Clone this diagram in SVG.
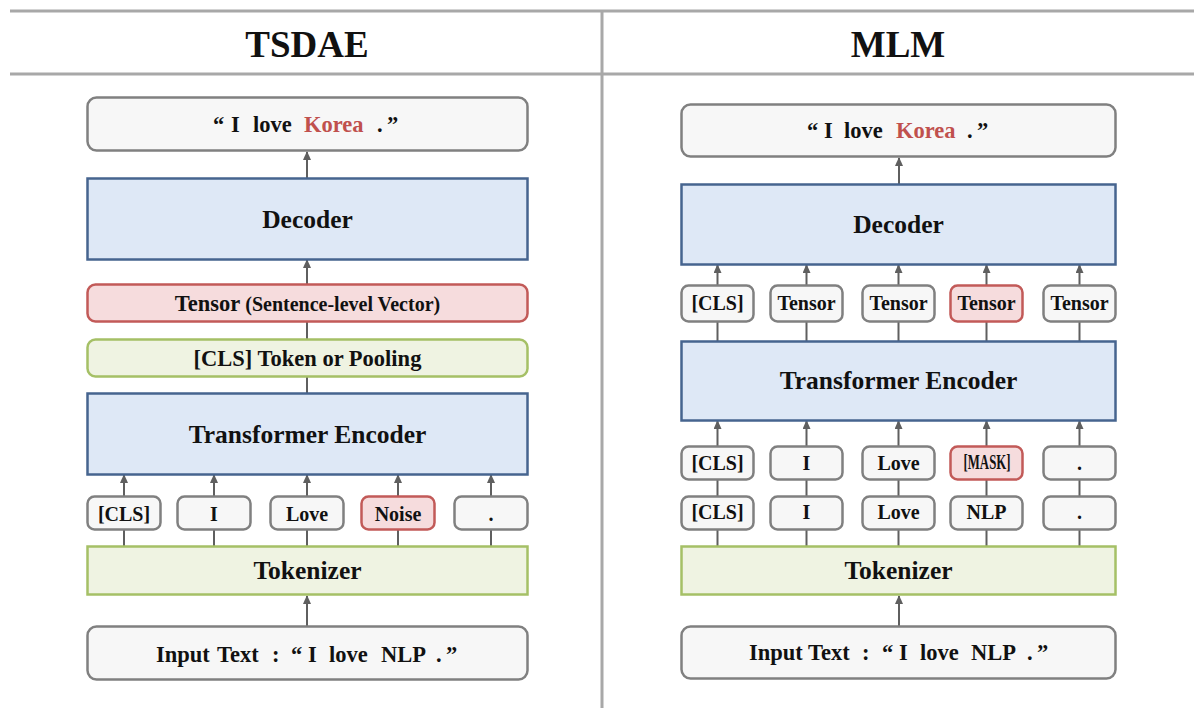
<svg xmlns="http://www.w3.org/2000/svg" width="1194" height="708" viewBox="0 0 1194 708">
  <defs>
    <marker id="arrow" viewBox="0 0 8 10" refX="4" refY="1" markerWidth="8" markerHeight="10" markerUnits="userSpaceOnUse" orient="0">
      <path d="M0,9 L4,0 L8,9 Z" fill="#5f5f5f"/>
    </marker>
    <style>
      text { font-family: "Times New Roman", Times, "Liberation Serif", Tinos, "Noto Serif", FreeSerif, "Nimbus Roman", "DejaVu Serif", serif; font-weight: 700; fill: #111; }
      .title { font-size: 37px; text-anchor: middle; }
      .big { font-size: 25.5px; text-anchor: middle; }
      .mid { font-size: 22.5px; }
      .tok { font-size: 20px; text-anchor: middle; }
      .red { fill: #c0504d; }
      .plain { fill: #f7f7f7; stroke: #808080; stroke-width: 2.5; }
      .blue { fill: #dee8f6; stroke: #46648f; stroke-width: 2.5; }
      .pink { fill: #f6dcdd; stroke: #c25a58; stroke-width: 2.5; }
      .green { fill: #eff3e2; stroke: #a5c066; stroke-width: 2.5; }
      .link { stroke: #5f5f5f; stroke-width: 2; fill: none; }
      .arr { stroke: #5f5f5f; stroke-width: 2; fill: none; marker-end: url(#arrow); }
      .rule { stroke: #a8a8a8; stroke-width: 3; }
    </style>
  </defs>

  <rect width="1194" height="708" fill="#ffffff"/>

  <!-- header table -->
  <g id="header">
    <line class="rule" x1="10" y1="11" x2="1194" y2="11"/>
    <line class="rule" x1="10" y1="74" x2="1194" y2="74"/>
    <line class="rule" x1="602" y1="11" x2="602" y2="708"/>
    <text class="title" x="307" y="57">TSDAE</text>
    <text class="title" x="898" y="57">MLM</text>
  </g>

  <!-- connectors -->
  <g id="connectors">
    <!-- TSDAE -->
    <line class="arr" x1="307" y1="178" x2="307" y2="152"/>
    <line class="arr" x1="307" y1="285" x2="307" y2="260"/>
    <line class="link" x1="307" y1="340" x2="307" y2="322"/>
    <line class="link" x1="307" y1="393" x2="307" y2="377"/>
    <line class="arr" x1="124" y1="496" x2="124" y2="475"/>
    <line class="arr" x1="214" y1="496" x2="214" y2="475"/>
    <line class="arr" x1="307" y1="496" x2="307" y2="475"/>
    <line class="arr" x1="398" y1="496" x2="398" y2="475"/>
    <line class="arr" x1="491" y1="496" x2="491" y2="475"/>
    <line class="link" x1="124" y1="546" x2="124" y2="530"/>
    <line class="link" x1="214" y1="546" x2="214" y2="530"/>
    <line class="link" x1="307" y1="546" x2="307" y2="530"/>
    <line class="link" x1="398" y1="546" x2="398" y2="530"/>
    <line class="link" x1="491" y1="546" x2="491" y2="530"/>
    <line class="arr" x1="307" y1="626" x2="307" y2="596"/>
    <!-- MLM -->
    <line class="arr" x1="899" y1="184" x2="899" y2="158"/>
    <line class="arr" x1="717.5" y1="285" x2="717.5" y2="265"/>
    <line class="arr" x1="806.5" y1="285" x2="806.5" y2="265"/>
    <line class="arr" x1="898.5" y1="285" x2="898.5" y2="265"/>
    <line class="arr" x1="986.5" y1="285" x2="986.5" y2="265"/>
    <line class="arr" x1="1079.5" y1="285" x2="1079.5" y2="265"/>
    <line class="link" x1="717.5" y1="341" x2="717.5" y2="322"/>
    <line class="link" x1="806.5" y1="341" x2="806.5" y2="322"/>
    <line class="link" x1="898.5" y1="341" x2="898.5" y2="322"/>
    <line class="link" x1="986.5" y1="341" x2="986.5" y2="322"/>
    <line class="link" x1="1079.5" y1="341" x2="1079.5" y2="322"/>
    <line class="arr" x1="717.5" y1="446" x2="717.5" y2="421"/>
    <line class="arr" x1="806.5" y1="446" x2="806.5" y2="421"/>
    <line class="arr" x1="898.5" y1="446" x2="898.5" y2="421"/>
    <line class="arr" x1="986.5" y1="446" x2="986.5" y2="421"/>
    <line class="arr" x1="1079.5" y1="446" x2="1079.5" y2="421"/>
    <line class="link" x1="717.5" y1="496" x2="717.5" y2="480"/>
    <line class="link" x1="806.5" y1="496" x2="806.5" y2="480"/>
    <line class="link" x1="898.5" y1="496" x2="898.5" y2="480"/>
    <line class="link" x1="986.5" y1="496" x2="986.5" y2="480"/>
    <line class="link" x1="1079.5" y1="496" x2="1079.5" y2="480"/>
    <line class="link" x1="717.5" y1="546" x2="717.5" y2="529"/>
    <line class="link" x1="806.5" y1="546" x2="806.5" y2="529"/>
    <line class="link" x1="898.5" y1="546" x2="898.5" y2="529"/>
    <line class="link" x1="986.5" y1="546" x2="986.5" y2="529"/>
    <line class="link" x1="1079.5" y1="546" x2="1079.5" y2="529"/>
    <line class="arr" x1="899" y1="626" x2="899" y2="596"/>
  </g>

  <!-- ===== TSDAE column ===== -->
  <g id="tsdae-output">
    <rect class="plain" x="87.5" y="97.5" width="440" height="53" rx="9"/>
    <text class="mid" y="132"><tspan x="213">“</tspan><tspan x="231">I</tspan><tspan x="253">love</tspan><tspan x="304" class="red">Korea</tspan><tspan x="377">.</tspan><tspan x="387">”</tspan></text>
  </g>
  <g id="tsdae-decoder">
    <rect class="blue" x="87.5" y="178.5" width="440" height="81"/>
    <text class="big" x="307.5" y="228">Decoder</text>
  </g>
  <g id="tsdae-tensor">
    <rect class="pink" x="87.5" y="284.5" width="440" height="37" rx="8"/>
    <text x="307.5" y="311" text-anchor="middle"><tspan font-size="22.5">Tensor</tspan><tspan font-size="20"> (Sentence-level Vector)</tspan></text>
  </g>
  <g id="tsdae-pooling">
    <rect class="green" x="87.5" y="339.5" width="440" height="37" rx="8"/>
    <text class="mid" x="307.5" y="366" text-anchor="middle">[CLS] Token or Pooling</text>
  </g>
  <g id="tsdae-encoder">
    <rect class="blue" x="87.5" y="393.5" width="440" height="81"/>
    <text class="big" x="307.5" y="443">Transformer Encoder</text>
  </g>
  <g id="tsdae-tok-cls">
    <rect class="plain" x="87.5" y="496.5" width="73" height="33" rx="7"/>
    <text class="tok" x="124" y="521">[CLS]</text>
  </g>
  <g id="tsdae-tok-i">
    <rect class="plain" x="177.5" y="496.5" width="73" height="33" rx="7"/>
    <text class="tok" x="214" y="521">I</text>
  </g>
  <g id="tsdae-tok-love">
    <rect class="plain" x="270.5" y="496.5" width="73" height="33" rx="7"/>
    <text class="tok" x="307" y="521">Love</text>
  </g>
  <g id="tsdae-tok-noise">
    <rect class="pink" x="361.5" y="496.5" width="73" height="33" rx="7"/>
    <text class="tok" x="398" y="521">Noise</text>
  </g>
  <g id="tsdae-tok-dot">
    <rect class="plain" x="454.5" y="496.5" width="73" height="33" rx="7"/>
    <text class="tok" x="491" y="521">.</text>
  </g>
  <g id="tsdae-tokenizer">
    <rect class="green" x="87.5" y="546.5" width="440" height="48"/>
    <text class="big" x="307.5" y="579">Tokenizer</text>
  </g>
  <g id="tsdae-input">
    <rect class="plain" x="87.5" y="626.5" width="440" height="53" rx="9"/>
    <text class="mid" y="662"><tspan x="156">Input</tspan><tspan x="217">Text</tspan><tspan x="272">:</tspan><tspan x="291">“</tspan><tspan x="308">I</tspan><tspan x="329">love</tspan><tspan x="381">NLP</tspan><tspan x="436">.</tspan><tspan x="446">”</tspan></text>
  </g>

  <!-- ===== MLM column ===== -->
  <g id="mlm-output">
    <rect class="plain" x="681.5" y="104.5" width="434" height="52" rx="9"/>
    <text class="mid" y="138"><tspan x="807">“</tspan><tspan x="824">I</tspan><tspan x="844">love</tspan><tspan x="896" class="red">Korea</tspan><tspan x="967">.</tspan><tspan x="977">”</tspan></text>
  </g>
  <g id="mlm-decoder">
    <rect class="blue" x="681.5" y="184.5" width="434" height="80"/>
    <text class="big" x="898.5" y="233">Decoder</text>
  </g>
  <g id="mlm-out-cls">
    <rect class="plain" x="681.5" y="285.5" width="72" height="36" rx="7"/>
    <text class="tok" x="717.5" y="310" font-size="17.5">[CLS]</text>
  </g>
  <g id="mlm-out-t1">
    <rect class="plain" x="770.5" y="285.5" width="72" height="36" rx="7"/>
    <text class="tok" x="806.5" y="310" font-size="16">Tensor</text>
  </g>
  <g id="mlm-out-t2">
    <rect class="plain" x="862.5" y="285.5" width="72" height="36" rx="7"/>
    <text class="tok" x="898.5" y="310" font-size="16">Tensor</text>
  </g>
  <g id="mlm-out-t3">
    <rect class="pink" x="950.5" y="285.5" width="72" height="36" rx="7"/>
    <text class="tok" x="986.5" y="310" font-size="16">Tensor</text>
  </g>
  <g id="mlm-out-t4">
    <rect class="plain" x="1043.5" y="285.5" width="72" height="36" rx="7"/>
    <text class="tok" x="1079.5" y="310" font-size="16">Tensor</text>
  </g>
  <g id="mlm-encoder">
    <rect class="blue" x="681.5" y="341.5" width="434" height="79"/>
    <text class="big" x="898.5" y="389">Transformer Encoder</text>
  </g>
  <g id="mlm-in-cls">
    <rect class="plain" x="681.5" y="446.5" width="72" height="33" rx="7"/>
    <text class="tok" x="717.5" y="470" font-size="19">[CLS]</text>
  </g>
  <g id="mlm-in-i">
    <rect class="plain" x="770.5" y="446.5" width="72" height="33" rx="7"/>
    <text class="tok" x="806.5" y="470" font-size="19">I</text>
  </g>
  <g id="mlm-in-love">
    <rect class="plain" x="862.5" y="446.5" width="72" height="33" rx="7"/>
    <text class="tok" x="898.5" y="470" font-size="19">Love</text>
  </g>
  <g id="mlm-in-mask">
    <rect class="pink" x="950.5" y="446.5" width="72" height="33" rx="7"/>
    <text class="tok" x="987" y="469" font-size="16" textLength="47" lengthAdjust="spacingAndGlyphs">[MASK]</text>
  </g>
  <g id="mlm-in-dot">
    <rect class="plain" x="1043.5" y="446.5" width="72" height="33" rx="7"/>
    <text class="tok" x="1079.5" y="470" font-size="19">.</text>
  </g>
  <g id="mlm-src-cls">
    <rect class="plain" x="681.5" y="496.5" width="72" height="33" rx="7"/>
    <text class="tok" x="717.5" y="519" font-size="19">[CLS]</text>
  </g>
  <g id="mlm-src-i">
    <rect class="plain" x="770.5" y="496.5" width="72" height="33" rx="7"/>
    <text class="tok" x="806.5" y="519" font-size="19">I</text>
  </g>
  <g id="mlm-src-love">
    <rect class="plain" x="862.5" y="496.5" width="72" height="33" rx="7"/>
    <text class="tok" x="898.5" y="519" font-size="19">Love</text>
  </g>
  <g id="mlm-src-nlp">
    <rect class="plain" x="950.5" y="496.5" width="72" height="33" rx="7"/>
    <text class="tok" x="986.5" y="519" font-size="19">NLP</text>
  </g>
  <g id="mlm-src-dot">
    <rect class="plain" x="1043.5" y="496.5" width="72" height="33" rx="7"/>
    <text class="tok" x="1079.5" y="519" font-size="19">.</text>
  </g>
  <g id="mlm-tokenizer">
    <rect class="green" x="681.5" y="546.5" width="434" height="48"/>
    <text class="big" x="898.5" y="579">Tokenizer</text>
  </g>
  <g id="mlm-input">
    <rect class="plain" x="681.5" y="626.5" width="434" height="52" rx="9"/>
    <text class="mid" y="660"><tspan x="749">Input</tspan><tspan x="808">Text</tspan><tspan x="862">:</tspan><tspan x="882">“</tspan><tspan x="899">I</tspan><tspan x="920">love</tspan><tspan x="971">NLP</tspan><tspan x="1027">.</tspan><tspan x="1037">”</tspan></text>
  </g>
</svg>
